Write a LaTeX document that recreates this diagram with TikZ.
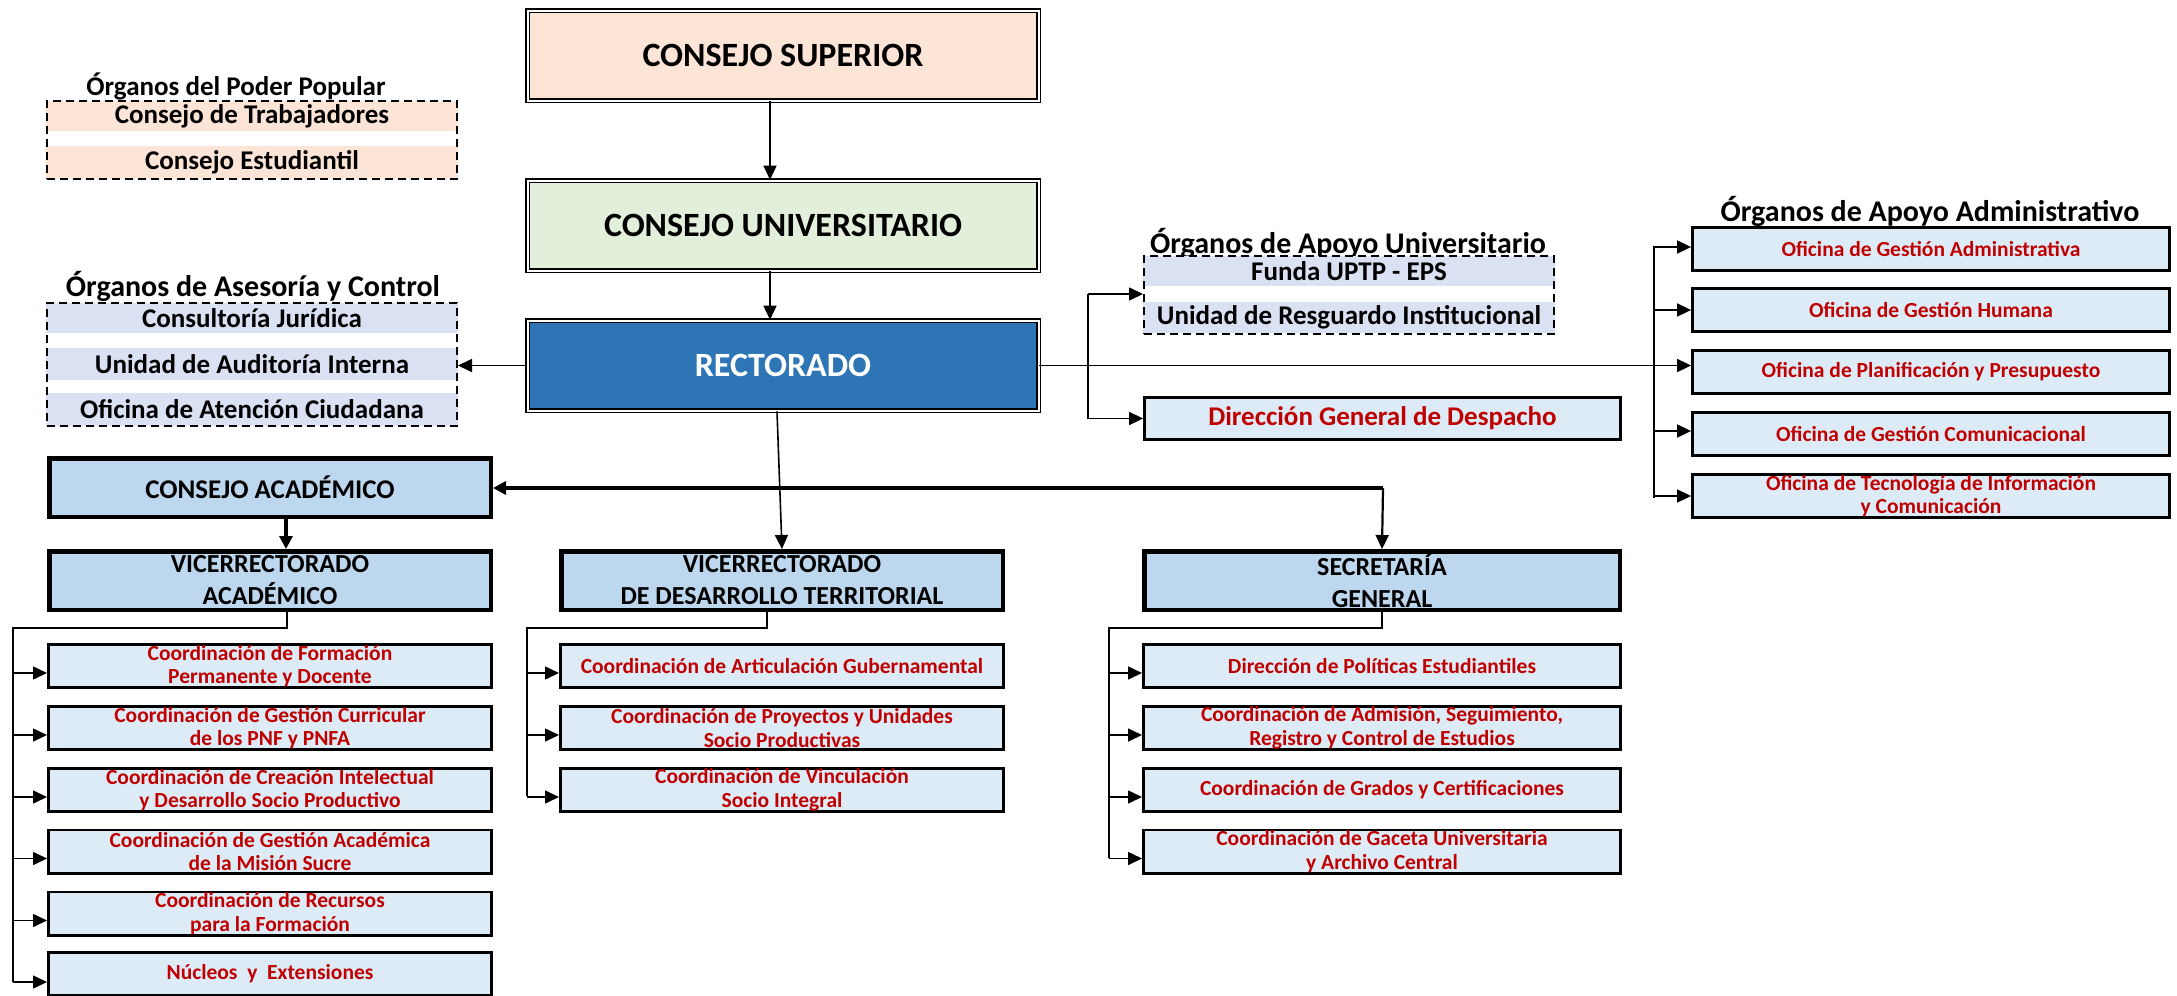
\documentclass[tikz,border=0pt]{standalone}
\usepackage{fontspec}
\setmainfont{Carlito}
\usetikzlibrary{arrows.meta}
\definecolor{peach}{HTML}{FCE4D6}
\definecolor{lgreen}{HTML}{E2EFDA}
\definecolor{rblue}{HTML}{2E75B6}
\definecolor{midblue}{HTML}{BDD7EE}
\definecolor{lightblue}{HTML}{DDEBF7}
\definecolor{lav}{HTML}{D9E1F2}
\definecolor{darkred}{HTML}{C00000}
\tikzset{
  arr/.style={line width=1.6pt, -{Triangle[length=14pt,width=13pt]}},
  thickarr/.style={line width=4.5pt, -{Triangle[length=13pt,width=13pt]}},
  ln/.style={line width=2.6pt},
  bigbox/.style={draw, line width=1.6pt, double=white, double distance=2pt, minimum width=511pt, minimum height=90pt, inner sep=0pt, font=\fontsize{34}{40}\selectfont\bfseries},
  midbox/.style={draw, line width=4.5pt, fill=midblue, minimum height=58.5pt, inner sep=0pt, align=center, font=\fontsize{26}{32}\selectfont\bfseries},
  childbox/.style={draw, line width=2.8pt, fill=lightblue, minimum height=43.2pt, inner sep=0pt, align=center, text=darkred, font=\fontsize{21.5}{23.5}\selectfont\bfseries},
  band/.style={minimum width=412pt, inner sep=0pt, font=\fontsize{27}{30}\selectfont\bfseries},
  dbox/.style={draw, line width=2pt, dash pattern=on 8pt off 5pt, minimum width=410pt, inner sep=0pt},
  ttl/.style={inner sep=0pt, font=\fontsize{30}{34}\selectfont\bfseries}
}
\begin{document}
\begin{tikzpicture}[x=1pt,y=-1pt]
\useasboundingbox (0,0) rectangle (2177,996);

% ---- top chain
\node[bigbox, fill=peach] (CS) at (783,55.5) {CONSEJO SUPERIOR};
\node[bigbox, fill=lgreen] (CU) at (783,225.5) {CONSEJO UNIVERSITARIO};
\node[bigbox, fill=rblue, text=white] (RE) at (783,365.5) {RECTORADO};
\draw[arr] ([xshift=-13pt]CS.south) -- ([xshift=-13pt]CU.north);
\draw[arr] ([xshift=-13pt]CU.south) -- ([xshift=-13pt]RE.north);

% ---- Poder Popular
\node[ttl, font=\fontsize{27}{30}\selectfont\bfseries] (tPP) at (236,86) {Órganos del Poder Popular};
\node[band, fill=peach, minimum height=30pt] (PP1) at (252,116) {Consejo de Trabajadores};
\node[band, fill=peach, minimum height=33pt] (PP2) at (252,162.5) {Consejo Estudiantil};
\node[dbox, minimum height=78pt] (PP) at (252,140) {};

% ---- Asesoria y Control
\node[ttl] (tAS) at (253,286) {Órganos de Asesoría y Control};
\node[band, fill=lav, minimum height=30pt] (AS1) at (252,318) {Consultoría Jurídica};
\node[band, fill=lav, minimum height=32pt] (AS2) at (252,364) {Unidad de Auditoría Interna};
\node[band, fill=lav, minimum height=33pt] (AS3) at (252,409.5) {Oficina de Atención Ciudadana};
\node[dbox, minimum height=123pt] (AS) at (252,364.5) {};
\draw[arr] (RE.west) -- (AS.east |- RE.west);

% ---- Apoyo Universitario
\node[ttl] (tAU) at (1348,243) {Órganos de Apoyo Universitario};
\node[band, fill=lav, minimum height=30pt] (AU1) at (1349,271) {Funda UPTP - EPS};
\node[band, fill=lav, minimum height=31pt] (AU2) at (1349,317.5) {Unidad de Resguardo Institucional};
\node[dbox, minimum height=78pt] (AU) at (1349,295) {};
\node[draw, line width=2.8pt, fill=lightblue, minimum width=476pt, minimum height=42pt, inner sep=0pt, text=darkred, font=\fontsize{27}{30}\selectfont\bfseries] (DG) at (1382.5,418.5) {Dirección General de Despacho};
\coordinate (ua) at (1088,294);
\coordinate (ub) at (1088,418.5);
\draw[line width=1.6pt] (ua) -- (ub);
\draw[arr] (ua) -- (AU.west |- ua);
\draw[arr] (ub) -- (DG.west);

% ---- Apoyo Administrativo
\node[ttl] (tAD) at (1930,211) {Órganos de Apoyo Administrativo};
\node[childbox, minimum width=477pt] (AD1) at (1931,249) {Oficina de Gestión Administrativa};
\node[childbox, minimum width=477pt] (AD2) at (1931,310) {Oficina de Gestión Humana};
\node[childbox, minimum width=477pt] (AD3) at (1931,372) {Oficina de Planificación y Presupuesto};
\node[childbox, minimum width=477pt] (AD4) at (1931,434) {Oficina de Gestión Comunicacional};
\node[childbox, minimum width=477pt] (AD5) at (1931,496) {Oficina de Tecnología de Información\\y Comunicación};
\coordinate (aa) at (1654,246);
\coordinate (ab) at (1654,498);
\draw[line width=1.8pt] (aa) -- (ab);
\draw[arr] (RE.east) -- (RE.east -| AD3.west);
\draw[arr] ([yshift=2pt]AD1.west -| aa) -- ([yshift=2pt]AD1.west);
\draw[arr] (AD2.west -| aa) -- (AD2.west);
\draw[arr] ([yshift=3pt]AD4.west -| aa) -- ([yshift=3pt]AD4.west);
\draw[arr] (AD5.west -| aa) -- (AD5.west);

% ---- second level
\node[midbox, minimum width=441.5pt, font=\fontsize{27}{32}\selectfont\bfseries] (CA) at (270,487.5) {CONSEJO ACADÉMICO};
\node[midbox, minimum width=441.5pt] (VA) at (270,580.5) {VICERRECTORADO\\ACADÉMICO};
\node[midbox, minimum width=441.5pt] (VT) at (782,580.5) {VICERRECTORADO\\DE DESARROLLO TERRITORIAL};
\node[midbox, minimum width=475.5pt] (SG) at (1382,580.5) {SECRETARÍA\\GENERAL};
\coordinate (js) at (1383,488);
\draw[thickarr] (js) -- (CA.east |- js);
\draw[arr, line width=2.2pt] (js) -- (SG.north);
\draw[arr] ([xshift=-6pt]RE.south) -- (VT.north);
\draw[thickarr, line width=4pt] ([xshift=16pt]CA.south) -- ([xshift=16pt]VA.north);

% ---- Vicerrectorado Academico children
\node[childbox, minimum width=443.2pt] (VA1) at (270,666) {Coordinación de Formación\\Permanente y Docente};
\node[childbox, minimum width=443.2pt] (VA2) at (270,728) {Coordinación de Gestión Curricular\\de los PNF y PNFA};
\node[childbox, minimum width=443.2pt] (VA3) at (270,790) {Coordinación de Creación Intelectual\\y Desarrollo Socio Productivo};
\node[childbox, minimum width=443.2pt] (VA4) at (270,851.5) {Coordinación de Gestión Académica\\de la Misión Sucre};
\node[childbox, minimum width=443.2pt] (VA5) at (270,913.5) {Coordinación de Recursos\\para la Formación};
\node[childbox, minimum width=443.2pt] (VA6) at (270,974) {Núcleos\ \ y\ \ Extensiones};
\coordinate (ta) at (13,628);
\coordinate (tb) at (13,982);
\draw[ln] ([xshift=17pt]VA.south) |- (ta) -- (tb);
\foreach \n in {VA1,VA2,VA3,VA4,VA5}
  \draw[arr] ([yshift=-7pt]\n.west -| ta) -- ([yshift=-7pt]\n.west);
\draw[arr] ([yshift=-8pt]VA6.west -| ta) -- ([yshift=-8pt]VA6.west);

% ---- Vicerrectorado Territorial children
\node[childbox, minimum width=443.2pt] (VT1) at (782,666) {Coordinación de Articulación Gubernamental};
\node[childbox, minimum width=443.2pt] (VT2) at (782,728) {Coordinación de Proyectos y Unidades\\Socio Productivas};
\node[childbox, minimum width=443.2pt] (VT3) at (782,790) {Coordinación de Vinculación\\Socio Integral};
\coordinate (tc) at (527,628);
\coordinate (td) at (527,796);
\draw[ln] ([xshift=-15pt]VT.south) |- (tc) -- (td);
\foreach \n in {VT1,VT2,VT3}
  \draw[arr] ([yshift=-7pt]\n.west -| tc) -- ([yshift=-7pt]\n.west);

% ---- Secretaria General children
\node[childbox, minimum width=477.2pt] (SG1) at (1382,666) {Dirección de Políticas Estudiantiles};
\node[childbox, minimum width=477.2pt] (SG2) at (1382,728) {Coordinación de Admisión, Seguimiento,\\Registro y Control de Estudios};
\node[childbox, minimum width=477.2pt] (SG3) at (1382,790) {Coordinación de Grados y Certificaciones};
\node[childbox, minimum width=477.2pt] (SG4) at (1382,851.5) {Coordinación de Gaceta Universitaria\\y Archivo Central};
\coordinate (te) at (1109,628);
\coordinate (tf) at (1109,858);
\draw[ln] (SG.south) |- (te) -- (tf);
\foreach \n in {SG1,SG2,SG3,SG4}
  \draw[arr] ([yshift=-7pt]\n.west -| te) -- ([yshift=-7pt]\n.west);
\end{tikzpicture}
\end{document}
